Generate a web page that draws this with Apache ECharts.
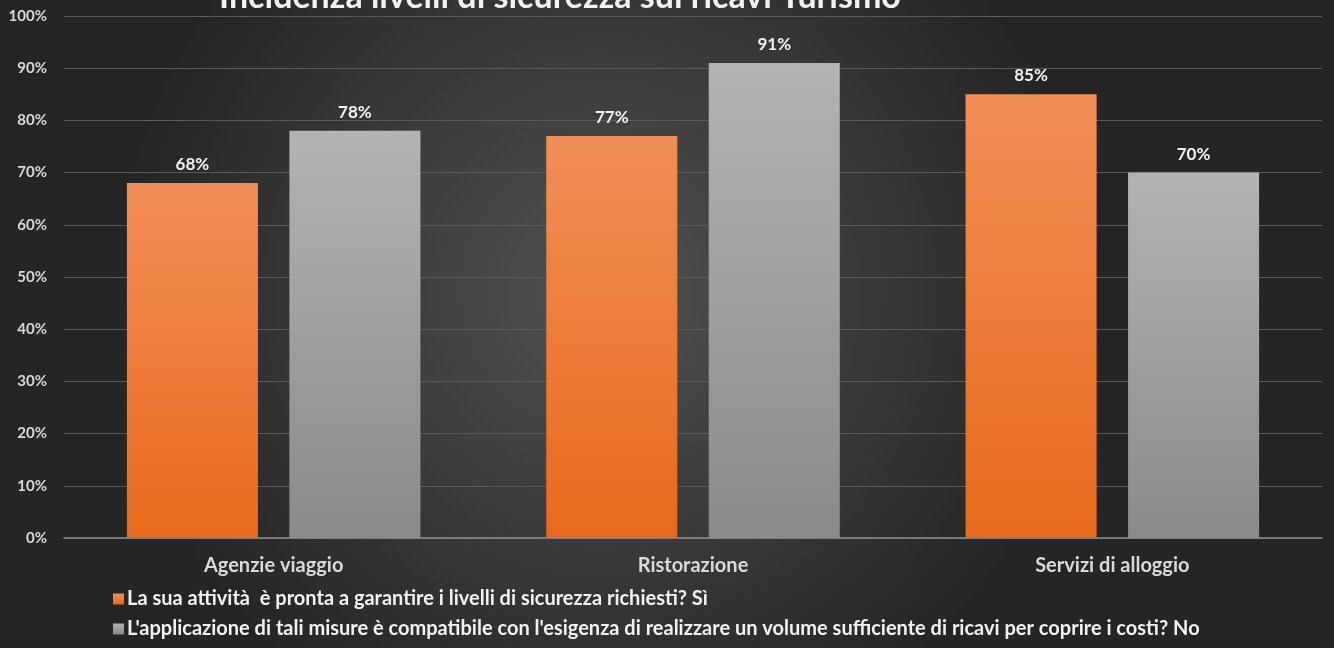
<!DOCTYPE html>
<html><head><meta charset="utf-8">
<script src="https://cdn.jsdelivr.net/npm/echarts@6/dist/echarts.min.js"></script>
<style>html,body{margin:0;padding:0;background:#333}#c{width:1334px;height:648px}</style>
</head><body><div id="c"></div>
<script>
const categories = ['Agenzie viaggio', 'Ristorazione', 'Servizi di alloggio'];
const seriesNames = [
  'La sua attività  è pronta a garantire i livelli di sicurezza richiesti? Sì',
  "L'applicazione di tali misure è compatibile con l'esigenza di realizzare un volume sufficiente di ricavi per coprire i costi? No"
];
const valuesSi = [68, 77, 85];
const valuesNo = [78, 91, 70];
const titleText = 'Incidenza livelli di sicurezza sui ricavi Turismo';

const FONT = 'Lato, "Open Sans", sans-serif';
const chart = echarts.init(document.getElementById('c'));
const grad = (a, b) => new echarts.graphic.LinearGradient(0, 0, 0, 1, [{offset: 0, color: a}, {offset: 1, color: b}]);
const lbl = {show: true, position: 'top', formatter: '{c}%', color: '#f2f2f2', fontSize: 17, fontWeight: 'bold', fontFamily: FONT, distance: 10};
chart.setOption({
  backgroundColor: new echarts.graphic.RadialGradient(0.45, 0.45, 0.75, [
    {offset: 0, color: '#515151'}, {offset: 1, color: '#252525'}
  ]),
  title: {
    text: titleText, left: 555, textAlign: 'center', top: -25,
    textStyle: {color: '#f2f2f2', fontSize: 34, fontWeight: 'bold', fontFamily: FONT}
  },
  legend: {
    orient: 'vertical', left: 108, top: 584, itemGap: 10,
    itemWidth: 11, itemHeight: 11, icon: 'rect',
    textStyle: {color: '#f2f2f2', fontSize: 20, fontWeight: 'bold', fontFamily: FONT, padding: [0, 0, 0, -2]},
    data: seriesNames
  },
  grid: {left: 64, right: 12, top: 16, bottom: 110},
  xAxis: {
    type: 'category', data: categories,
    axisLine: {lineStyle: {color: '#8c8c8c', width: 1.5}},
    axisTick: {show: false},
    axisLabel: {color: '#d9d9d9', fontSize: 20, fontWeight: 'bold', fontFamily: FONT, margin: 18}
  },
  yAxis: {
    type: 'value', min: 0, max: 100, interval: 10,
    axisLabel: {formatter: '{value}%', color: '#d9d9d9', fontSize: 15, fontWeight: 'bold', fontFamily: FONT, margin: 17},
    splitLine: {lineStyle: {color: '#5a5a5a', width: 1}},
    axisLine: {show: false}, axisTick: {show: false}
  },
  series: [
    {
      name: seriesNames[0], type: 'bar', data: valuesSi, barGap: '24%', barCategoryGap: '30%',
      itemStyle: {color: grad('#f18e58', '#e8691b')},
      label: lbl
    },
    {
      name: seriesNames[1], type: 'bar', data: valuesNo,
      itemStyle: {color: grad('#b3b3b3', '#8a8a8a')},
      label: lbl
    }
  ]
});
</script></body></html>
